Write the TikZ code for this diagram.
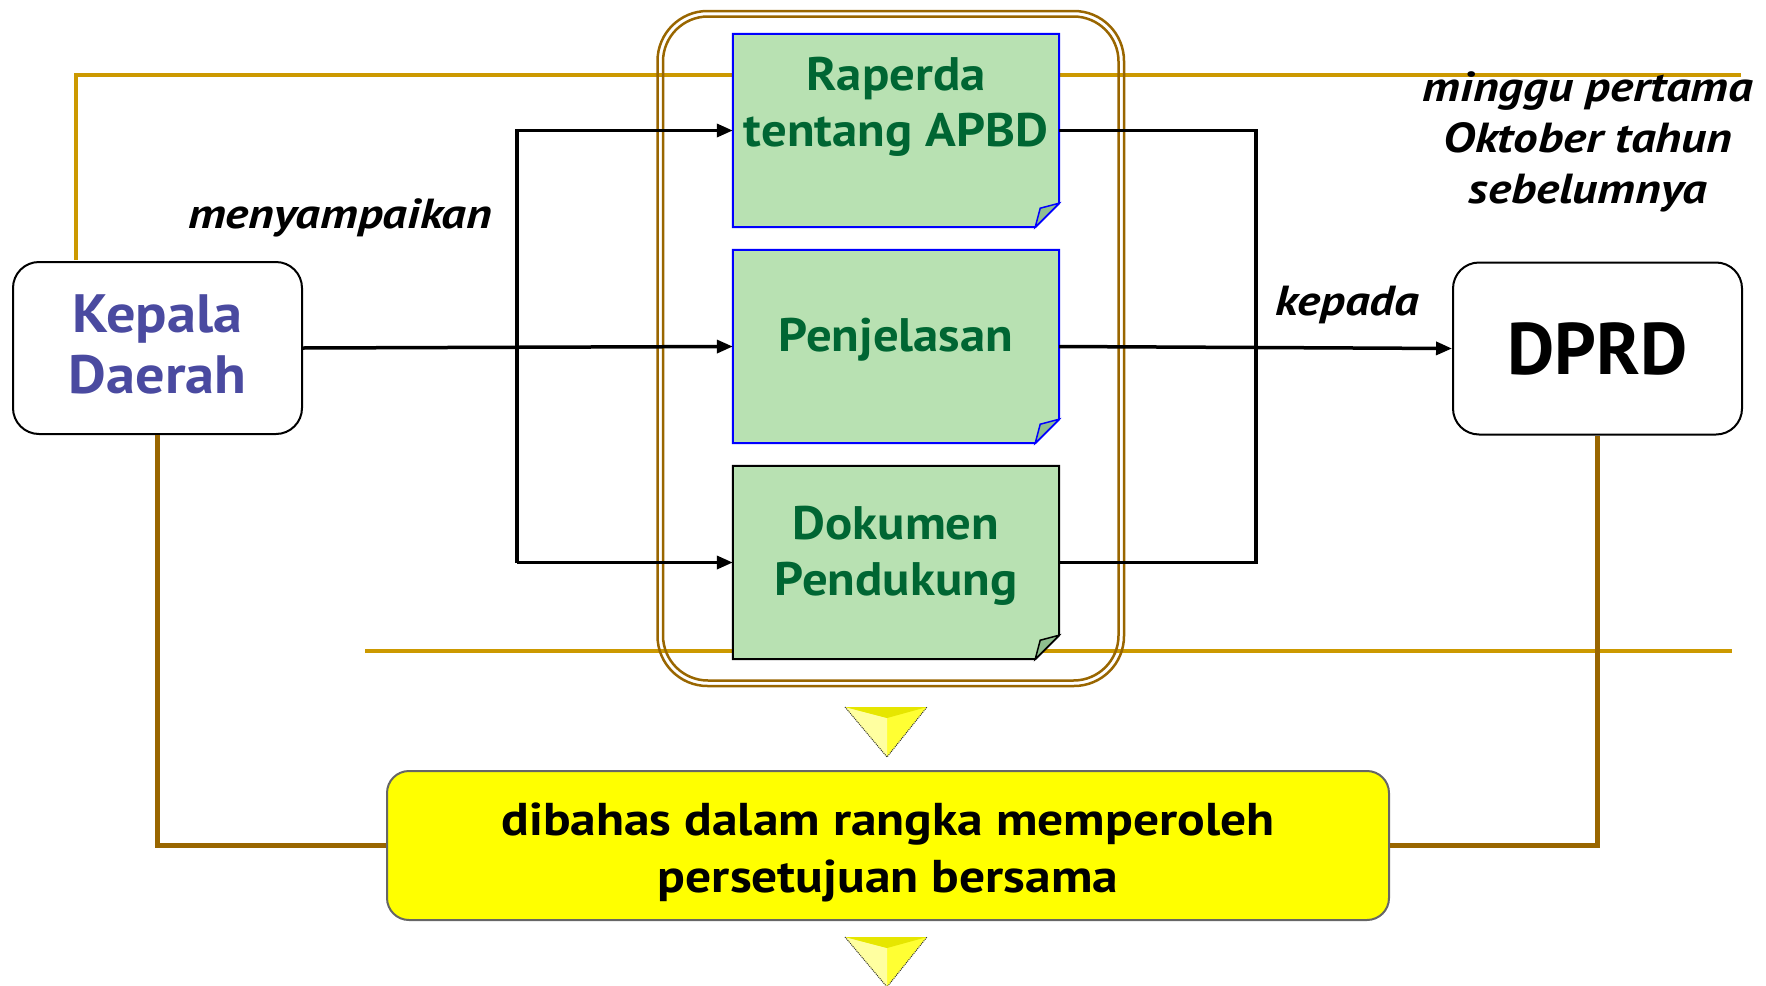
\documentclass[tikz,border=0pt]{standalone}
\usepackage{fontspec}
\setmainfont{PT Sans}
\newfontfamily\wideA{PT Sans}[FakeStretch=1.08]
\newfontfamily\wideB{PT Sans}[FakeStretch=1.12]
\newfontfamily\wideI{PT Sans}[FakeStretch=1.17]
\usetikzlibrary{arrows.meta,calc}
\definecolor{goldc}{HTML}{CC9900}
\definecolor{brownc}{HTML}{996600}
\definecolor{docgreen}{HTML}{B8E1B2}
\definecolor{foldgreen}{HTML}{8FBF8F}
\definecolor{txtgreen}{HTML}{006633}
\definecolor{kdblue}{HTML}{4A4AA0}
\definecolor{yelbox}{HTML}{FFFF00}
\definecolor{triA}{HTML}{FFFF33}
\definecolor{triB}{HTML}{FFFFA0}
\definecolor{triC}{HTML}{E6E600}
\newcommand{\docshape}[2]{%
  \draw[draw=#2,fill=docgreen,line width=2pt,line join=miter]
    (#1.north west) -- (#1.north east) -- ($(#1.south east)+(0,-24)$)
    -- ($(#1.south east)+(-24,0)$) -- (#1.south west) -- cycle;
  \draw[draw=#2,fill=foldgreen,line width=1.5pt]
    ($(#1.south east)+(-24,0)$) -- ($(#1.south east)+(0,-24)$)
    -- ($(#1.south east)+(-19,-19)$) -- cycle;}
\newcommand{\pyramid}[2]{%
  \fill[triA] (#1-42,#2) -- (#1+40,#2) -- (#1,#2+50) -- cycle;
  \fill[triB] (#1-42,#2) -- (#1,#2+11) -- (#1,#2+50) -- cycle;
  \fill[triC] (#1-42,#2) -- (#1+40,#2) -- (#1,#2+11) -- cycle;
  \draw[black!80,line width=1pt,densely dotted] (#1-42,#2) -- (#1,#2+50) -- (#1+40,#2);}
\begin{document}
\begin{tikzpicture}[x=1pt,y=-1pt,
  docnode/.style={draw=none,minimum width=326pt,minimum height=193pt,inner sep=0pt},
  doctext/.style={font=\wideA\bfseries\fontsize{47}{56}\selectfont,text=txtgreen,align=center,inner sep=0pt},
  actor/.style={draw=black,line width=2pt,fill=white,rounded corners=26pt,
    minimum width=289pt,minimum height=172pt,align=center,inner sep=0pt},
  goldline/.style={draw=goldc,line width=4pt},
  brownline/.style={draw=brownc,line width=5pt},
  frameline/.style={draw=brownc,line width=2.5pt},
  conn/.style={draw=black,line width=3.5pt},
  arr/.style={conn,-{Triangle[length=16pt,width=13pt]}},
  lbl/.style={font=\wideI\bfseries\itshape\fontsize{42}{51}\selectfont,text=black,align=center,inner sep=0pt}
]
\useasboundingbox (0,0) rectangle (1766,985);

% actors and documents (document outlines drawn below)
\node[actor] (kd) at (157.5,348) {};
\node[align=center,inner sep=0pt,text=kdblue,font=\wideA\bfseries\fontsize{54}{61}\selectfont] (kdt) at ($(kd.center)+(0,-4)$) {Kepala\\Daerah};
\node[actor,font=\bfseries\fontsize{73}{80}\selectfont] (dprd) at (1597.5,348.5) {DPRD};
\node[docnode] (b1) at (896,130.5) {};
\node[docnode] (b2) at (896,346.5) {};
\node[docnode] (b3) at (896,562.5) {};

% gold lines
\coordinate (gtop) at (1741,75);
\coordinate (gbl) at (365,651);
\coordinate (gbr) at (1732,651);
\draw[goldline] ($(kd.north west)+(64,-1)$) |- (gtop);
\draw[goldline] (gbl) -- (gbr);

% yellow box and brown lines
\node[draw=black!60,line width=2pt,fill=yelbox,rounded corners=22pt,
  minimum width=1002pt,minimum height=149pt,inner sep=0pt] (yb) at (888,845.5) {};
\node[align=center,inner sep=0pt,font=\wideB\bfseries\fontsize{46}{57}\selectfont] (ybt) at ($(yb.center)+(0,7)$)
  {dibahas dalam rangka memperoleh\\persetujuan bersama};
\draw[brownline] (kd.south) |- (yb.west);
\draw[brownline] (dprd.south) |- (yb.east);

% double rounded frame
\draw[frameline,rounded corners=50pt] (657.5,11) rectangle (1124,686);
\draw[frameline,rounded corners=45pt] (663,16.5) rectangle (1118.5,680.5);

% documents
\docshape{b1}{blue}
\docshape{b2}{blue}
\docshape{b3}{black}
\node[doctext] (t1) at (896,107) {Raperda\\tentang APBD};
\node[doctext] (t2) at (896,340) {Penjelasan};
\node[doctext] (t3) at (896,556) {Dokumen\\Pendukung};

% connectors
\coordinate (jl) at (517,347);
\coordinate (jr) at (1256,347);
\draw[arr] (kd.east) -- (b2.west);
\draw[arr] (jl |- b3.west) -- (jl |- b1.west) -- (b1.west);
\draw[arr] (jl |- b3.west) -- (b3.west);
\draw[conn] (b1.east) -| (jr |- b3.east) -- (b3.east);
\draw[arr] (b2.east) -- (dprd.west);

% labels
\node[lbl,anchor=base] (l1) at (340,228) {menyampaikan};
\node[lbl,anchor=base] (l2) at (1347.5,315) {kepada};
\node[lbl] (l3) at (1588,142) {minggu pertama\\Oktober tahun\\sebelumnya};

% pyramids
\pyramid{887}{707}
\pyramid{887}{937}
\end{tikzpicture}
\end{document}
